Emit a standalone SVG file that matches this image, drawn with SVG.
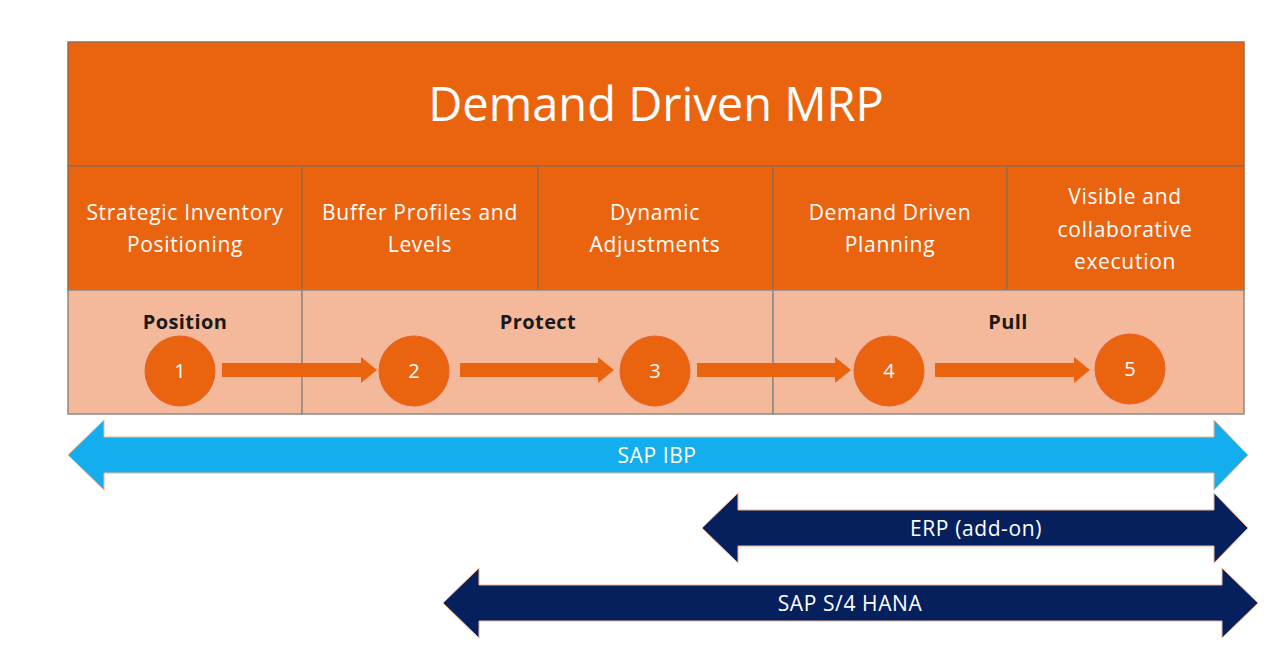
<svg xmlns="http://www.w3.org/2000/svg" width="1280" height="650" viewBox="0 0 1280 650">
<style>
.or{fill:#EA6410;stroke:#A0684A;stroke-width:1.5}
.lt{fill:#F4B89A;stroke:#8E8884;stroke-width:1.5}
.wt{font-family:"Open Sans","Liberation Sans",sans-serif;fill:#FFFFFF;text-anchor:middle}
.sm{font-size:21px;letter-spacing:0.7px}
.bt{font-family:"Open Sans","Liberation Sans",sans-serif;fill:#1A1A1A;text-anchor:middle;font-weight:bold;font-size:20px;letter-spacing:0.4px}
.cir{fill:#EA6410;stroke:#E8602A;stroke-width:1}
.num{font-family:"Open Sans","Liberation Sans",sans-serif;fill:#FFFFFF;text-anchor:middle;font-size:20px}
.flow{fill:#EA6410}
.lab{font-family:"Open Sans","Liberation Sans",sans-serif;fill:#FFFFFF;text-anchor:middle;font-size:21px;letter-spacing:0.6px}
</style>
<rect width="1280" height="650" fill="#FFFFFF"/>
<g id="title">
<rect class="or" x="68" y="42" width="1176" height="124"/>
<text class="wt" x="656" y="121" font-size="47">Demand Driven MRP</text>
</g>
<g id="step-boxes">
<g id="box1"><rect class="or" x="68" y="166" width="234" height="124"/>
<text class="wt sm" x="185" y="220">Strategic Inventory</text>
<text class="wt sm" x="185" y="252">Positioning</text></g>
<g id="box2"><rect class="or" x="302" y="166" width="236" height="124"/>
<text class="wt sm" x="420" y="220">Buffer Profiles and</text>
<text class="wt sm" x="420" y="252">Levels</text></g>
<g id="box3"><rect class="or" x="538" y="166" width="235" height="124"/>
<text class="wt sm" x="655" y="220">Dynamic</text>
<text class="wt sm" x="655" y="252">Adjustments</text></g>
<g id="box4"><rect class="or" x="773" y="166" width="234" height="124"/>
<text class="wt sm" x="890" y="220">Demand Driven</text>
<text class="wt sm" x="890" y="252">Planning</text></g>
<g id="box5"><rect class="or" x="1007" y="166" width="237" height="124"/>
<text class="wt sm" x="1125" y="204">Visible and</text>
<text class="wt sm" x="1125" y="237">collaborative</text>
<text class="wt sm" x="1125" y="269">execution</text></g>
</g>
<g id="phases">
<g id="position"><rect class="lt" x="68" y="290" width="234" height="124"/>
<text class="bt" x="185" y="329">Position</text></g>
<g id="protect"><rect class="lt" x="302" y="290" width="471" height="124"/>
<text class="bt" x="538" y="329">Protect</text></g>
<g id="pull"><rect class="lt" x="773" y="290" width="471" height="124"/>
<text class="bt" x="1008" y="329">Pull</text></g>
</g>
<g id="connectors">
<path class="flow" d="M222,363 H361 V357 L377,370 L361,383 V377 H222 Z"/>
<path class="flow" d="M460,363 H598 V357 L614,370 L598,383 V377 H460 Z"/>
<path class="flow" d="M697,363 H835 V357 L851,370 L835,383 V377 H697 Z"/>
<path class="flow" d="M935,363 H1074 V357 L1090,370 L1074,383 V377 H935 Z"/>
</g>
<g id="step1"><circle class="cir" cx="180" cy="371" r="35"/><text class="num" x="180" y="378">1</text></g>
<g id="step2"><circle class="cir" cx="414" cy="371" r="35"/><text class="num" x="414" y="378">2</text></g>
<g id="step3"><circle class="cir" cx="655" cy="371" r="35"/><text class="num" x="655" y="378">3</text></g>
<g id="step4"><circle class="cir" cx="889" cy="371" r="35"/><text class="num" x="889" y="378">4</text></g>
<g id="step5"><circle class="cir" cx="1130" cy="369" r="35"/><text class="num" x="1130" y="376">5</text></g>
<g id="sap-ibp">
<path d="M68,455 L104,420 V437 H1214 V420 L1248,455 L1214,490 V473 H104 V490 Z" fill="#14AEEF" stroke="#F2B48E" stroke-width="1"/>
<text class="lab" x="657" y="463">SAP IBP</text>
</g>
<g id="erp">
<path d="M702,528 L738,493 V510 H1214 V493 L1248,528 L1214,563 V546 H738 V563 Z" fill="#06205E" stroke="#F2B48E" stroke-width="1"/>
<text class="lab" x="976" y="536">ERP (add-on)</text>
</g>
<g id="s4hana">
<path d="M443,603 L479,568 V585 H1222 V568 L1258,603 L1222,638 V621 H479 V638 Z" fill="#06205E" stroke="#F2B48E" stroke-width="1"/>
<text class="lab" x="850" y="611">SAP S/4 HANA</text>
</g>
</svg>
